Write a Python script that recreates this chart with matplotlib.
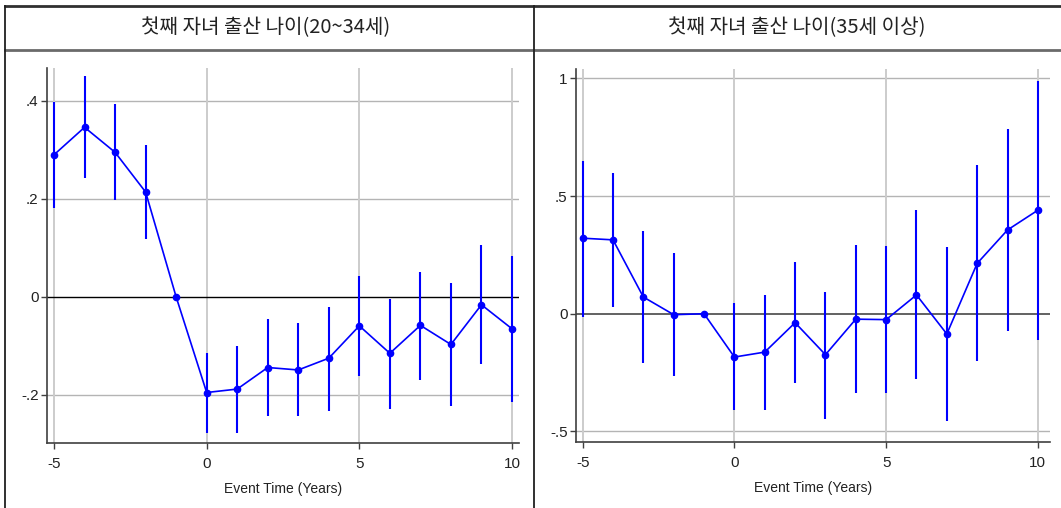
import matplotlib
matplotlib.use("Agg")
import matplotlib.pyplot as plt
from matplotlib.lines import Line2D

# ---- data ----
event_time = list(range(-5, 11))

titles = ["첫째 자녀 출산 나이(20~34세)", "첫째 자녀 출산 나이(35세 이상)"]
xlabel = "Event Time (Years)"

left_coef = [0.290, 0.346, 0.295, 0.214, 0.0, -0.195, -0.188, -0.144, -0.149, -0.125,
             -0.059, -0.115, -0.058, -0.097, -0.016, -0.065]
left_lo = [0.181, 0.243, 0.197, 0.118, 0.0, -0.277, -0.277, -0.243, -0.242, -0.232,
           -0.161, -0.228, -0.169, -0.222, -0.136, -0.214]
left_hi = [0.397, 0.450, 0.394, 0.310, 0.0, -0.115, -0.101, -0.045, -0.054, -0.021,
           0.043, -0.004, 0.051, 0.028, 0.106, 0.084]

right_coef = [0.321, 0.314, 0.071, -0.004, 0.0, -0.184, -0.163, -0.038, -0.174, -0.023,
              -0.025, 0.080, -0.086, 0.214, 0.356, 0.440]
right_lo = [-0.013, 0.027, -0.210, -0.264, 0.0, -0.411, -0.408, -0.296, -0.447, -0.336,
            -0.336, -0.279, -0.455, -0.200, -0.072, -0.111]
right_hi = [0.651, 0.600, 0.353, 0.260, 0.0, 0.044, 0.080, 0.221, 0.092, 0.292,
            0.288, 0.440, 0.282, 0.631, 0.783, 0.987]

x_ticks = [-5, 0, 5, 10]
x_ticklabels = ["-5", "0", "5", "10"]
left_yticks = [-0.2, 0.0, 0.2, 0.4]
left_yticklabels = ["-.2", "0", ".2", ".4"]
right_yticks = [-0.5, 0.0, 0.5, 1.0]
right_yticklabels = ["-.5", "0", ".5", "1"]

# ---- figure ----
W, H = 1061, 508
fig = plt.figure(figsize=(W / 100, H / 100), dpi=100)
fig.patch.set_facecolor("white")

tick_font = ["Liberation Sans Narrow", "Liberation Sans", "DejaVu Sans"]
title_font = ["Noto Sans CJK KR", "DejaVu Sans"]

def fx(px):
    return px / W

def fy(py):
    return 1 - py / H

# table-like frame lines
frame = [
    ((5, 1061), (6, 6), "#303030", 2.0),
    ((5, 1061), (50, 50), "#6a6a6a", 2.0),
    ((5, 5), (6, 508), "#202020", 1.3),
    ((534, 534), (6, 508), "#202020", 1.3),
]
for xs, ys, c, lw in frame:
    fig.add_artist(Line2D([fx(xs[0]), fx(xs[1])], [fy(ys[0]), fy(ys[1])],
                          transform=fig.transFigure, color=c, lw=lw))

panels = [
    dict(box=(47, 519, 68, 443), xlim=(-5.23, 10.23), ylim=(-0.298, 0.467),
         coef=left_coef, lo=left_lo, hi=left_hi, yt=left_yticks, ytl=left_yticklabels,
         zero_c="#000000", zero_lw=1.0, title=titles[0], tcx=266),
    dict(box=(576, 1050, 69, 442), xlim=(-5.22, 10.4), ylim=(-0.545, 1.04),
         coef=right_coef, lo=right_lo, hi=right_hi, yt=right_yticks, ytl=right_yticklabels,
         zero_c="#555555", zero_lw=1.3, title=titles[1], tcx=797),
]

for p in panels:
    x0, x1, y0, y1 = p["box"]
    ax = fig.add_axes([fx(x0), fy(y1), (x1 - x0) / W, (y1 - y0) / H])
    ax.set_xlim(*p["xlim"])
    ax.set_ylim(*p["ylim"])
    for s in ["top", "right"]:
        ax.spines[s].set_visible(False)
    for s in ["left", "bottom"]:
        ax.spines[s].set_color("#404040")
        ax.spines[s].set_linewidth(1.2)
    # grid
    for v in p["yt"]:
        if v != 0:
            ax.axhline(v, color="#b4b4b4", lw=1.0, zorder=1)
    for v in x_ticks:
        ax.axvline(v, color="#cccccc", lw=1.4, zorder=1)
    ax.axhline(0, color=p["zero_c"], lw=p["zero_lw"], zorder=2)

    ax.vlines(event_time, p["lo"], p["hi"], color="#0000ff", lw=1.5, zorder=3)
    ax.plot(event_time, p["coef"], color="#0000ff", lw=1.2, marker="o",
            markersize=4.5, zorder=4)

    ax.set_xticks(x_ticks)
    ax.set_xticklabels(x_ticklabels, fontfamily=tick_font, fontsize=11, color="#222222")
    ax.set_yticks(p["yt"])
    ax.set_yticklabels(p["ytl"], fontfamily=tick_font, fontsize=11, color="#222222")
    ax.tick_params(axis="both", direction="out", length=4, width=1.0, color="#404040")
    ax.tick_params(axis="x", pad=6)
    ax.tick_params(axis="y", pad=2)
    ax.set_xlabel(xlabel, fontfamily=tick_font, fontsize=10, color="#222222", labelpad=8)

    fig.text(fx(p["tcx"]), fy(28), p["title"], fontfamily=title_font, fontsize=14.5,
             ha="center", va="center", color="#222222")

fig.savefig("out.png", dpi=100)
